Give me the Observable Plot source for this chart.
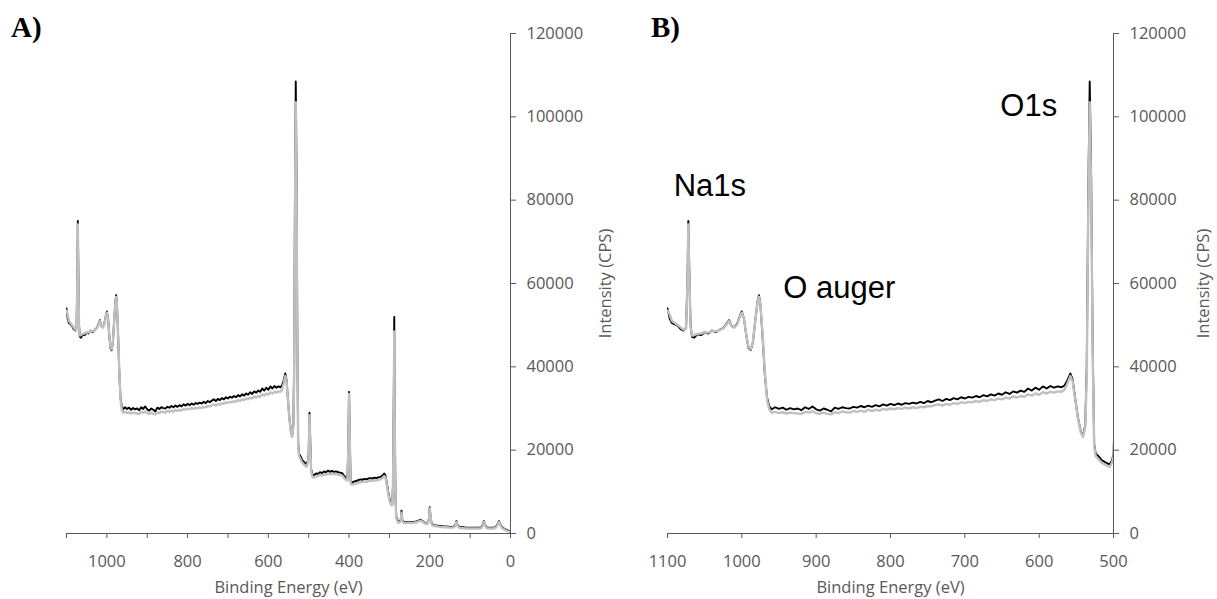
<!DOCTYPE html>
<html>
<head>
<meta charset="utf-8">
<script src="https://cdn.jsdelivr.net/npm/d3@7"></script>
<script src="https://cdn.jsdelivr.net/npm/@observablehq/plot@0.6"></script>
<style>
  body { margin: 0; background: #fff; }
  #wrap { position: relative; width: 1217px; height: 599px; display: flex; }
  .tag { position: absolute; top: 11px; font: bold 29px "Liberation Serif", "Times New Roman", serif; color: #000; }
</style>
</head>
<body>
<div id="wrap">
  <div class="tag" style="left:11px">A)</div>
  <div class="tag" style="left:651px">B)</div>
</div>
<script>
// binding energy (eV)
const energy = [
  1100,1097,1094,1090,1086,1082,1078,1075,1073,1072,1071,1069,1067,1064,1060,1055,1050,1045,1040,1035,
  1030,1025,1020,1017,1014,1010,1006,1002,1000,997,994,991,988,985,982,979,977,975,972,969,
  966,963,960,955,950,945,940,935,930,925,920,915,910,905,900,895,890,885,880,875,
  870,865,860,855,850,845,840,835,830,825,820,815,810,805,800,795,790,785,780,775,
  770,765,760,755,750,745,740,735,730,725,720,715,710,705,700,695,690,685,680,675,
  670,665,660,655,650,645,640,635,630,625,620,615,610,605,600,595,590,585,580,575,
  570,566,562,558,555,552,548,544,541,538,536,534,532,530,528,526,524,520,516,512,
  508,505,502,500,498,496,494,491,487,482,477,472,467,462,457,452,447,442,437,432,
  427,422,417,412,408,404,402,400,398,396,392,387,382,377,372,367,362,357,352,347,
  342,337,332,327,322,317,313,310,307,303,299,296,293,291,289,288,287,285,283,279,
  275,272,270,268,264,258,252,246,240,234,228,223,218,212,206,202,200,198,195,190,
  182,174,166,158,150,142,137,134,131,126,118,110,102,94,86,78,72,68,66,63,
  58,50,42,36,32,29,26,22,16,10,5,1
];
// intensity (CPS), black trace
const black = [
  54000,51500,50500,50200,49800,49000,48700,49500,62000,75000,66000,50000,47200,47000,47800,47600,48200,48000,48700,48300,
  48900,49300,50500,51200,49800,49500,50500,52500,53300,51500,47500,44500,44000,46000,51000,55500,57200,55000,47000,38000,
  32500,30500,29800,30300,29900,30200,29700,30100,29800,30000,29600,30300,29900,30500,29800,29500,30000,29700,29300,30200,
  29900,30300,30100,30000,30400,30200,30600,30300,30700,30400,30800,30500,31000,30700,31100,30800,31200,30900,31300,31100,
  31400,31200,31600,31300,31800,31500,31900,32200,31800,32300,32000,32500,32200,32700,32400,32800,32600,33000,32700,33200,
  32900,33400,33100,33600,33300,33900,33500,34100,33800,34300,34000,34800,34300,35000,34500,35300,34800,35400,35000,35300,
  35100,35500,36800,38400,37000,33000,28000,24500,23500,26000,40000,80000,108500,85000,45000,21500,19200,18500,17600,17200,
  16800,16600,17500,19000,29000,22000,15500,14200,14000,14400,14300,14700,14500,14900,14700,15100,14800,15000,14800,14900,
  14700,14600,14500,13800,13400,13200,20000,34000,22000,12500,12200,12500,12600,12800,13000,12900,13100,13000,13200,13300,
  13200,13400,13300,13500,13600,13900,14400,14000,12500,10000,8000,7200,7000,12000,35000,52000,30000,9000,4000,3000,
  2900,3200,5500,3200,2800,2700,2800,2700,2800,2900,3100,3300,3000,2600,2500,3500,6300,3800,2300,2000,
  1900,1800,1700,1700,1600,1600,2000,3000,2000,1500,1500,1400,1400,1400,1400,1400,1500,2300,3000,2000,
  1400,1400,1400,1600,2300,3000,2400,1600,1200,900,700,500
];
// intensity (CPS), grey trace
const grey = [
  53500,52500,51000,50500,50000,49400,48900,49200,61000,74200,65000,49500,47500,47600,47900,48000,48300,48200,48600,48500,
  48800,49200,50300,51000,49800,49400,50300,52300,53000,51500,47600,44800,44200,46200,51000,55300,56800,55000,47500,38500,
  32000,29800,29000,29200,28900,29100,28800,29000,28900,28800,28700,29200,29000,29300,28900,28700,29000,28700,28600,29100,
  28900,29300,29100,29000,29400,29200,29500,29200,29700,29400,29700,29500,29900,29700,30000,29800,30100,29900,30200,30000,
  30300,30100,30400,30300,30600,30500,30800,31000,30700,31100,30900,31300,31100,31500,31300,31600,31500,31800,31600,32000,
  31800,32200,32000,32400,32200,32600,32400,32900,32600,33000,32800,33400,33100,33600,33300,33900,33600,34000,33800,34100,
  34000,34500,36000,37800,36500,32800,27800,24200,23200,25500,38000,77000,103500,81000,43000,21000,18600,17800,17000,16600,
  16200,16000,17000,18500,28400,21500,15000,13600,13400,13800,13700,14100,13900,14200,14100,14500,14200,14400,14200,14300,
  14100,14000,13900,13300,12900,12700,19500,33500,21500,12000,11700,11900,12000,12200,12400,12300,12500,12400,12600,12700,
  12600,12800,12700,12900,13000,13300,13800,13500,12000,9500,7600,6900,6800,11000,32000,48500,28000,8500,3600,2700,
  2600,3000,5000,3000,2500,2500,2600,2500,2600,2700,2900,3100,2800,2400,2300,3300,6000,3600,2100,1800,
  1700,1600,1500,1500,1400,1400,1800,2800,1800,1300,1300,1200,1200,1200,1200,1200,1300,2100,2800,1800,
  1200,1200,1200,1400,2100,2800,2200,1400,1000,700,500,400
];

const yTicks = [0, 20000, 40000, 60000, 80000, 100000, 120000];
const xTicksA = [1100, 1000, 900, 800, 700, 600, 500, 400, 300, 200, 100, 0];
const xLabelsA = [1000, 800, 600, 400, 200, 0];
const xTicksB = [1100, 1000, 900, 800, 700, 600, 500];

const peakNames = ["Na1s", "O auger", "O1s"];
const peakEnergy = [1043, 869, 614];
const peakCounts = [83500, 58800, 102500];

const rows = energy.map((e, i) => ({e, black: black[i], grey: grey[i]}));
const notes = peakNames.map((t, i) => ({t, e: peakEnergy[i], c: peakCounts[i]}));

const axisGrey = "#595959";

function panel({width, domain, ticks, labels, marginLeft, marginRight, yLabelOffset, annotate}) {
  return Plot.plot({
    width,
    height: 599,
    marginTop: 33,
    marginBottom: 66,
    marginLeft,
    marginRight,
    style: {fontFamily: "'Open Sans', sans-serif", fontSize: "16.5px", color: axisGrey, background: "white"},
    x: {
      domain,
      ticks,
      tickFormat: d => labels.includes(d) ? String(d) : "",
      tickSize: 5,
      tickPadding: 17,
      line: true,
      label: "Binding Energy (eV)",
      labelAnchor: "center",
      labelArrow: "none",
      labelOffset: 59
    },
    y: {
      domain: [0, 120000],
      axis: "right",
      ticks: yTicks,
      tickFormat: d3.format("d"),
      tickSize: 5,
      tickPadding: 11,
      line: true,
      label: "Intensity (CPS)",
      labelAnchor: "center",
      labelArrow: "none",
      labelOffset: yLabelOffset
    },
    marks: [
      Plot.line(rows, {x: "e", y: "black", stroke: "#000", strokeWidth: 1.9, clip: true}),
      Plot.line(rows, {x: "e", y: "grey", stroke: "#c0c0c0", strokeWidth: 2.4, clip: true}),
      annotate ? Plot.text(notes, {x: "e", y: "c", text: "t", fill: "#000", fontSize: 31,
        fontFamily: "'Liberation Sans', Arial, sans-serif"}) : null
    ]
  });
}

const wrap = d3.select("#wrap");
wrap.append(() => panel({width: 617, domain: [1100, 0], ticks: xTicksA, labels: xLabelsA,
  marginLeft: 66, marginRight: 107, yLabelOffset: 100, annotate: false}));
wrap.append(() => panel({width: 600, domain: [1100, 500], ticks: xTicksB, labels: xTicksB,
  marginLeft: 50, marginRight: 104, yLabelOffset: 95, annotate: true}));
</script>
</body>
</html>
